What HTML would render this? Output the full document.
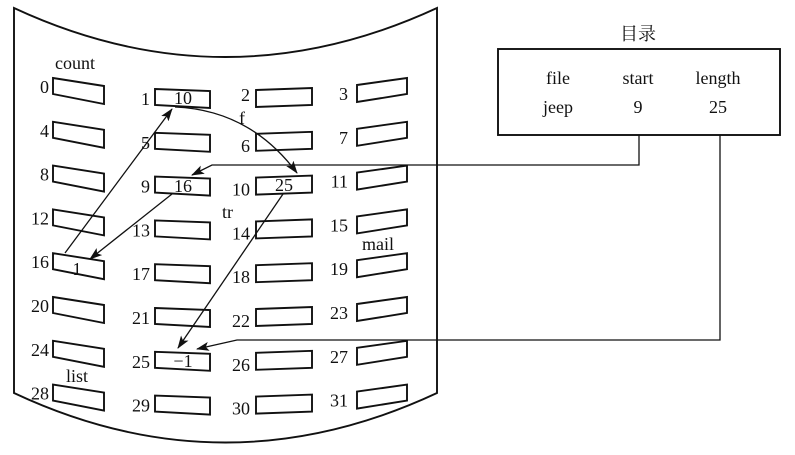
<!DOCTYPE html>
<html><head><meta charset="utf-8"><style>
html,body{margin:0;padding:0;background:#fff;}
svg{display:block;}
text{font-family:"Liberation Serif","Noto Serif CJK SC",serif;font-size:18px;fill:#111;}
</style></head><body>
<svg id="s" width="795" height="455" viewBox="0 0 795 455" xmlns="http://www.w3.org/2000/svg">
<defs><marker id="a" markerWidth="13" markerHeight="9" refX="12" refY="4.5" orient="auto" markerUnits="userSpaceOnUse"><path d="M0,0 L13,4.5 L0,9 L3,4.5 z" fill="#111"/></marker></defs>
<g fill="none" stroke="#111" stroke-width="1.9">
<path d="M14,8 Q225,106 437,8 L437,393 Q225,492 14,393 Z"/>
<rect x="498" y="49" width="282" height="86"/>
</g>
<g id="boxes" fill="none" stroke="#111" stroke-width="1.9"></g>
<g id="labels"></g>
<g fill="none" stroke="#111" stroke-width="1.3">
<polyline points="639,135 639,165 212,165 192,175" marker-end="url(#a)"/>
<polyline points="720,135 720,340 237,340 197,349" marker-end="url(#a)"/>
<path d="M175,107 Q250,110 297,173" marker-end="url(#a)"/>
<line x1="65" y1="253" x2="172" y2="109" marker-end="url(#a)"/>
<line x1="172" y1="194" x2="90" y2="259" marker-end="url(#a)"/>
<line x1="283" y1="194" x2="178" y2="348" marker-end="url(#a)"/>
</g>
<text x="620" y="40">目录</text>
<text x="558" y="84" text-anchor="middle">file</text>
<text x="638" y="84" text-anchor="middle">start</text>
<text x="718" y="84" text-anchor="middle">length</text>
<text x="558" y="113" text-anchor="middle">jeep</text>
<text x="638" y="113" text-anchor="middle">9</text>
<text x="718" y="113" text-anchor="middle">25</text>
<text x="55" y="69">count</text>
<text x="362" y="250">mail</text>
<text x="66" y="382">list</text>
<text x="239" y="124">f</text>
<text x="222" y="218">tr</text>
<text x="183" y="104" text-anchor="middle">10</text>
<text x="183" y="192" text-anchor="middle">16</text>
<text x="284" y="191" text-anchor="middle">25</text>
<text x="77" y="275" text-anchor="middle">1</text>
<text x="183" y="367" text-anchor="middle">−1</text>
</svg>
<script>
var ns="http://www.w3.org/2000/svg",B=document.getElementById("boxes"),L=document.getElementById("labels");
function poly(p){var e=document.createElementNS(ns,"polygon");e.setAttribute("points",p.map(function(q){return q.join(",")}).join(" "));B.appendChild(e);}
function txt(x,y,t){var e=document.createElementNS(ns,"text");e.setAttribute("x",x);e.setAttribute("y",y);e.setAttribute("text-anchor","end");e.textContent=t;L.appendChild(e);}
var st=43.8;
for(var r=0;r<8;r++){
 var y0=78+r*st,y1=89+r*st,y2=89+r*st,y3=85+r*st;
 poly([[53,y0],[104,y0+8],[104,y0+26],[53,y0+16]]);
 poly([[155,y1],[210,y1+2],[210,y1+19],[155,y1+16]]);
 poly([[256,y2+1],[312,y2-1],[312,y2+16],[256,y2+18]]);
 poly([[357,y3],[407,y3-7],[407,y3+9],[357,y3+17]]);
 txt(49,y0+15,4*r);
 txt(150,y1+16,4*r+1);
 txt(250,y2+(r==0?12:19),4*r+2);
 txt(348,y3+15,4*r+3);
}
</script>
</body></html>
